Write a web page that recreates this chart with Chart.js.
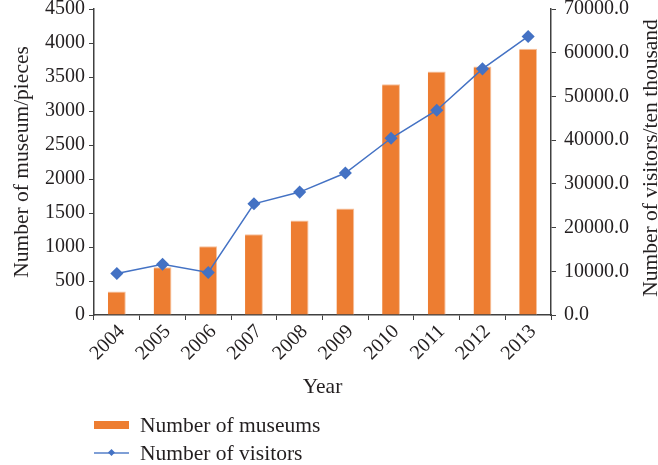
<!DOCTYPE html>
<html lang="en">
<head>
    <meta charset="UTF-8">
    <title>Museums and visitors</title>
    <style>
        body {
            margin: 0;
            padding: 0;
            background-color: #fff;
            font-family: "Liberation Serif", serif;
            color: #231f20;
        }

        .wrap {
            position: relative;
            width: 658px;
            height: 465px;
        }

        .legend {
            position: absolute;
            left: 94px;
            top: 411px;
            font-size: 21.5px;
        }

        .legend div {
            display: flex;
            align-items: center;
            height: 28px;
        }

        .swatch {
            width: 35px;
            height: 8px;
            margin-right: 11px;
            position: relative;
        }

        .bar-swatch {
            background-color: #ED7D31;
        }

        .line-swatch {
            height: 2px;
            background-color: #7f9fd6;
        }

        .line-swatch span {
            position: absolute;
            left: 15px;
            top: -2px;
            width: 5px;
            height: 5px;
            background-color: #4472C4;
            transform: rotate(45deg);
        }
    </style>
</head>
<body>
    <div class="wrap">
        <canvas id="chart" width="658" height="465"></canvas>
        <div class="legend">
            <div><i class="swatch bar-swatch"></i>Number of museums</div>
            <div><i class="swatch line-swatch"><span></span></i>Number of visitors</div>
        </div>
    </div>

    <script src="https://cdn.jsdelivr.net/npm/chart.js"></script>
    <script>
        // values
        const years = ['2004', '2005', '2006', '2007', '2008', '2009', '2010', '2011', '2012', '2013'];
        const museums = [345, 703, 1012, 1189, 1391, 1568, 3395, 3580, 3654, 3915];
        const visitors = [9490, 11620, 9720, 25440, 28120, 32480, 40430, 46850, 56310, 63720];

        const axisColor = '#404040';
        const textColor = '#231f20';
        const font = { family: 'Liberation Serif', size: 20 };
        const titleFont = { family: 'Liberation Serif', size: 21.5 };

        // right axis title reads bottom to top, Chart.js would turn it the other way
        const rightTitle = {
            id: 'rightTitle',
            afterDraw(chart) {
                const ctx = chart.ctx;
                ctx.save();
                ctx.translate(651, 158);
                ctx.rotate(-Math.PI / 2);
                ctx.font = titleFont.size + 'px ' + titleFont.family;
                ctx.fillStyle = textColor;
                ctx.textAlign = 'center';
                ctx.textBaseline = 'middle';
                ctx.fillText('Number of visitors/ten thousand', 0, 0);
                ctx.restore();
            }
        };

        function fixWidth(w) {
            return function (scale) {
                scale.width = w;
                scale.paddingTop = 0;
                scale.paddingBottom = 0;
            };
        }

        new Chart(document.getElementById('chart'), {
            data: {
                labels: years,
                datasets: [{
                    type: 'line',
                    label: 'Number of visitors',
                    data: visitors,
                    yAxisID: 'y1',
                    borderColor: '#4472C4',
                    backgroundColor: '#4472C4',
                    borderWidth: 1.5,
                    pointStyle: 'rectRot',
                    pointRadius: 5.5,
                    pointHoverRadius: 5.5,
                    tension: 0,
                    order: 0
                }, {
                    type: 'bar',
                    label: 'Number of museums',
                    data: museums,
                    yAxisID: 'y',
                    backgroundColor: '#ED7D31',
                    borderColor: '#F6C29E',
                    borderWidth: { top: 1, left: 0, right: 1, bottom: 0 },
                    barPercentage: 0.39,
                    categoryPercentage: 1,
                    order: 1
                }]
            },
            options: {
                responsive: false,
                animation: false,
                layout: { padding: { top: 9, bottom: 65, left: 0, right: 0 } },
                plugins: {
                    legend: { display: false },
                    tooltip: { enabled: false }
                },
                scales: {
                    x: {
                        offset: true,
                        grid: { offset: true, drawOnChartArea: false, tickLength: 5, color: axisColor },
                        border: { color: axisColor, width: 1.5 },
                        ticks: { color: textColor, font: font, minRotation: 45, maxRotation: 45, padding: 0, labelOffset: 5 },
                        title: { display: true, text: 'Year', color: textColor, font: titleFont, padding: { top: 0, bottom: 0 } },
                        afterFit(scale) { scale.height = 85; }
                    },
                    y: {
                        position: 'left',
                        min: 0,
                        max: 4500,
                        grid: { drawOnChartArea: false, tickLength: 5, color: axisColor },
                        border: { color: axisColor, width: 1.5 },
                        ticks: { stepSize: 500, color: textColor, font: font, padding: 4, callback: v => String(v) },
                        title: { display: true, text: 'Number of museum/pieces', color: textColor, font: titleFont, padding: { top: 9 } },
                        afterFit: fixWidth(94)
                    },
                    y1: {
                        position: 'right',
                        min: 0,
                        max: 70000,
                        grid: { drawOnChartArea: false, tickLength: 5, color: axisColor },
                        border: { color: axisColor, width: 1.5 },
                        ticks: {
                            stepSize: 10000,
                            color: textColor,
                            font: font,
                            padding: 8,
                            callback: v => v.toFixed(1)
                        },
                        afterFit: fixWidth(107)
                    }
                }
            },
            plugins: [rightTitle]
        });
    </script>
</body>
</html>
